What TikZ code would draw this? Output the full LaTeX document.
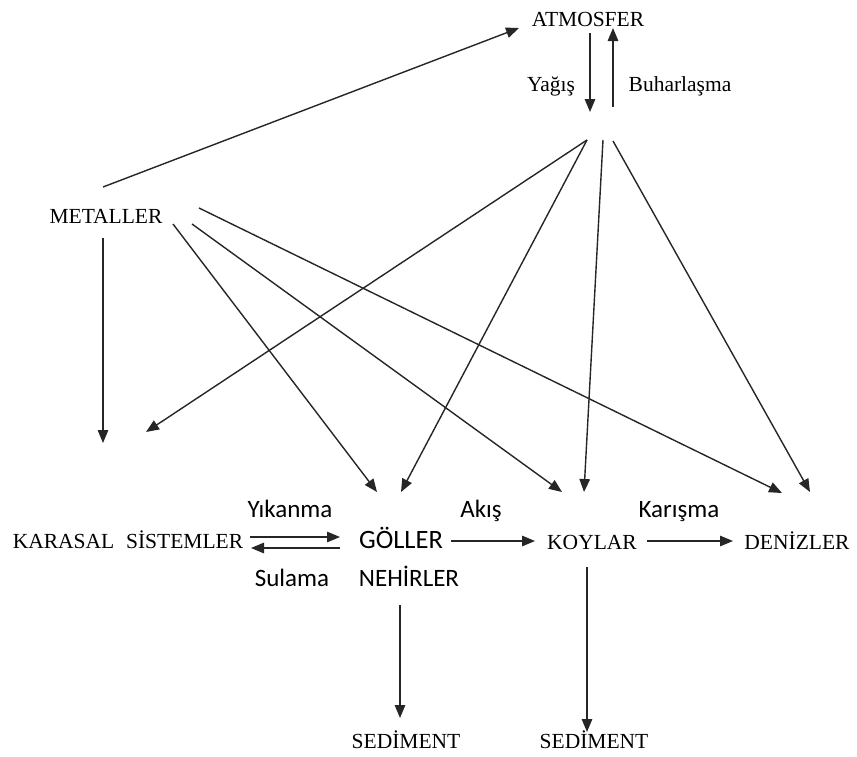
\documentclass[tikz,border=0pt]{standalone}
\usepackage{fontspec}
\setmainfont{Liberation Serif}
\newfontfamily\calfont{Carlito}
\usetikzlibrary{arrows.meta}
\begin{document}
\begin{tikzpicture}[x=1pt,y=-1pt,
  lbl/.style={inner sep=0pt,anchor=base,font=\fontsize{21.5}{24}\selectfont},
  clbl/.style={inner sep=0pt,anchor=base,font=\calfont\fontsize{25}{28}\selectfont},
  arr/.style={line width=1.4pt,draw={black!85},-{Triangle[length=13pt,width=10.5pt]}}]
\useasboundingbox (0,0) rectangle (857,756);
% text nodes
\node[lbl] (atm) at (588,26) {ATMOSFER};
\node[lbl] (yag) at (551,91) {Yağış};
\node[lbl] (buh) at (680,91) {Buharlaşma};
\node[lbl] (met) at (106,223) {METALLER};
\node[lbl] (kar) at (128,548) {KARASAL\hspace{0.55em}SİSTEMLER};
\node[clbl,font=\calfont\fontsize{26.5}{28}\selectfont] (gol) at (401,548) {GÖLLER};
\node[clbl] (neh) at (409,586) {NEHİRLER};
\node[clbl] (yik) at (290,517) {Yıkanma};
\node[clbl] (sul) at (292,586) {Sulama};
\node[clbl] (aki) at (481,517) {Akış};
\node[clbl] (kri) at (679,517) {Karışma};
\node[lbl] (koy) at (592,549) {KOYLAR};
\node[lbl] (den) at (797,549) {DENİZLER};
\node[lbl] (sed1) at (406,748) {SEDİMENT};
\node[lbl] (sed2) at (594,748) {SEDİMENT};
% connector end points
\coordinate (atmA) at (590,33);
\coordinate (atmB) at (590,112);
\coordinate (atmC) at (613,107);
\coordinate (atmD) at (613,28);
\coordinate (atL) at (587,140);
\coordinate (atM) at (603,140);
\coordinate (atR) at (613,141);
\coordinate (metTop) at (103,187);
\coordinate (metAtm) at (519,28);
\coordinate (metDn) at (103,238);
\coordinate (karIn) at (103,443);
\coordinate (karIn2) at (146,432);
\coordinate (m1) at (173,224);
\coordinate (m2) at (192,224);
\coordinate (m3) at (199,208);
\coordinate (golIn1) at (377,492);
\coordinate (golIn2) at (401,492);
\coordinate (koyIn1) at (562,492);
\coordinate (koyIn2) at (584,492);
\coordinate (denIn1) at (782,493);
\coordinate (denIn2) at (810,492);
\coordinate (ks1) at (250,537);
\coordinate (ks2) at (340,537);
\coordinate (ks3) at (340,548);
\coordinate (ks4) at (251,548);
\coordinate (gk1) at (451,541);
\coordinate (gk2) at (535,541);
\coordinate (kd1) at (647,541);
\coordinate (kd2) at (733,541);
\coordinate (ns1) at (400,605);
\coordinate (ns2) at (400,718);
\coordinate (ks5) at (587,567);
\coordinate (ks6) at (587,732);
% connectors
\draw[arr] (atmA) -- (atmB);
\draw[arr] (atmC) -- (atmD);
\draw[arr] (metTop) -- (metAtm);
\draw[arr] (metDn) -- (karIn);
\draw[arr] (atL) -- (karIn2);
\draw[arr] (atL) -- (golIn2);
\draw[arr] (atM) -- (koyIn2);
\draw[arr] (atR) -- (denIn2);
\draw[arr] (m1) -- (golIn1);
\draw[arr] (m2) -- (koyIn1);
\draw[arr] (m3) -- (denIn1);
\draw[arr] (ks1) -- (ks2);
\draw[arr] (ks3) -- (ks4);
\draw[arr] (gk1) -- (gk2);
\draw[arr] (kd1) -- (kd2);
\draw[arr] (ns1) -- (ns2);
\draw[arr] (ks5) -- (ks6);
\end{tikzpicture}
\end{document}
